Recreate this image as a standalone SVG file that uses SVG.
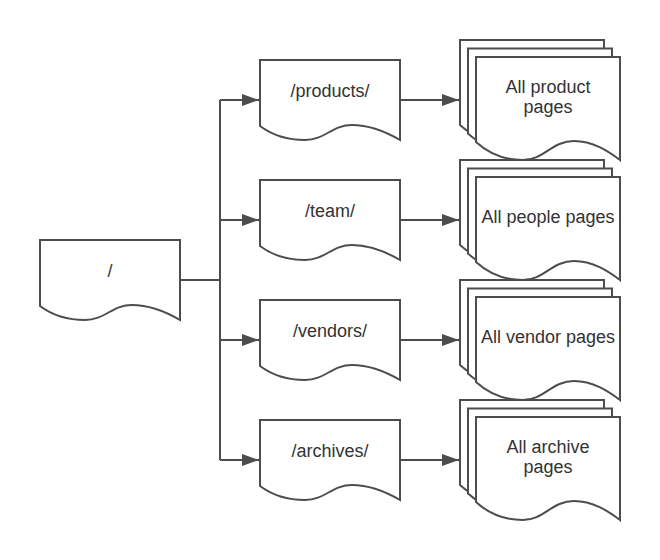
<svg xmlns="http://www.w3.org/2000/svg" width="660" height="560" viewBox="0 0 660 560">
<style>
.doc{fill:#ffffff;stroke:#4d4d4d;stroke-width:2;stroke-linejoin:miter}
.lbl{font-family:"Liberation Sans",Arial,sans-serif;font-size:18px;fill:#333333;text-anchor:middle}
.conn{fill:none;stroke:#4d4d4d;stroke-width:2}
</style>
<defs>
<marker id="arr" markerUnits="userSpaceOnUse" markerWidth="18" markerHeight="12" refX="17" refY="6" orient="auto">
<path d="M0,0 L17,6 L0,12 Z" fill="#4d4d4d"/>
</marker>
<path id="single" d="M0,0 H140 V80 C128,73 112,65 92,65 C72,65 65,80 45,80 C28,80 12,75 0,66 Z"/>
<path id="page" d="M0,0 H144 V103 C132,94 117,84 98,84 C76,84 68,103 47,103 C29,103 12,96 0,85 Z"/>
</defs>
<rect width="660" height="560" fill="#ffffff"/>
<g id="connectors">
<path class="conn" d="M180,280 H220 M220,100 V460"/>
<path class="conn" d="M220,100 H259" marker-end="url(#arr)"/>
<path class="conn" d="M220,220 H259" marker-end="url(#arr)"/>
<path class="conn" d="M220,340 H259" marker-end="url(#arr)"/>
<path class="conn" d="M220,460 H259" marker-end="url(#arr)"/>
<path class="conn" d="M400,100 H459" marker-end="url(#arr)"/>
<path class="conn" d="M400,220 H459" marker-end="url(#arr)"/>
<path class="conn" d="M400,340 H459" marker-end="url(#arr)"/>
<path class="conn" d="M400,460 H459" marker-end="url(#arr)"/>
</g>
<g id="root">
<use href="#single" class="doc" transform="translate(40,240)"/>
<text class="lbl" x="110" y="277">/</text>
</g>
<g id="products">
<use href="#single" class="doc" transform="translate(260,60)"/>
<text class="lbl" x="330" y="97">/products/</text>
</g>
<g id="team">
<use href="#single" class="doc" transform="translate(260,180)"/>
<text class="lbl" x="330" y="217">/team/</text>
</g>
<g id="vendors">
<use href="#single" class="doc" transform="translate(260,300)"/>
<text class="lbl" x="330" y="337">/vendors/</text>
</g>
<g id="archives">
<use href="#single" class="doc" transform="translate(260,420)"/>
<text class="lbl" x="330" y="457">/archives/</text>
</g>
<g id="product-pages">
<use href="#page" class="doc" transform="translate(460,40)"/>
<use href="#page" class="doc" transform="translate(468,48.5)"/>
<use href="#page" class="doc" transform="translate(476,57)"/>
<text class="lbl" x="548" y="93.3">All product</text>
<text class="lbl" x="548" y="113.3">pages</text>
</g>
<g id="people-pages">
<use href="#page" class="doc" transform="translate(460,160)"/>
<use href="#page" class="doc" transform="translate(468,168.5)"/>
<use href="#page" class="doc" transform="translate(476,177)"/>
<text class="lbl" x="548" y="223.3">All people pages</text>
</g>
<g id="vendor-pages">
<use href="#page" class="doc" transform="translate(460,280)"/>
<use href="#page" class="doc" transform="translate(468,288.5)"/>
<use href="#page" class="doc" transform="translate(476,297)"/>
<text class="lbl" x="548" y="343.3">All vendor pages</text>
</g>
<g id="archive-pages">
<use href="#page" class="doc" transform="translate(460,400)"/>
<use href="#page" class="doc" transform="translate(468,408.5)"/>
<use href="#page" class="doc" transform="translate(476,417)"/>
<text class="lbl" x="548" y="453.3">All archive</text>
<text class="lbl" x="548" y="473.3">pages</text>
</g>
</svg>
